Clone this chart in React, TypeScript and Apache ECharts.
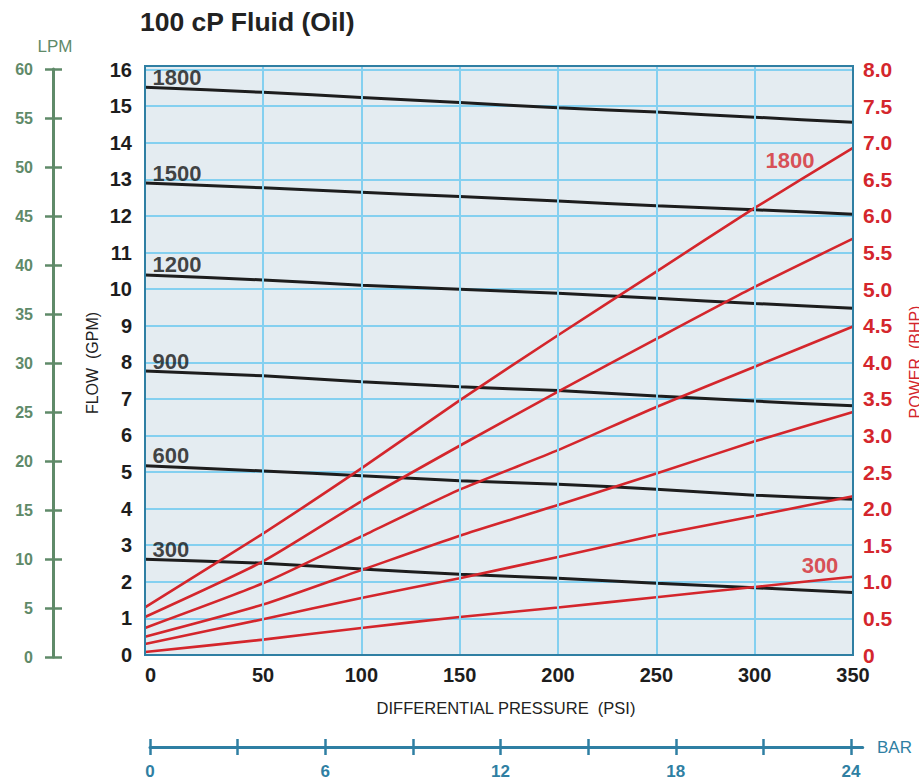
import React, { useEffect, useRef } from "react";
import * as echarts from "echarts";

// ---- data ----
const PSI_EDGE = -10; // left border of the plot
const PSI = [PSI_EDGE, 50, 100, 150, 200, 250, 300, 350];
const PSI_TICKS = [0, 50, 100, 150, 200, 250, 300, 350];
const PSI_GRID = [50, 100, 150, 200, 250, 300];
const RPM = [300, 600, 900, 1200, 1500, 1800];

const FLOW_300 = [2.62, 2.51, 2.35, 2.21, 2.1, 1.96, 1.84, 1.71];
const FLOW_600 = [5.17, 5.03, 4.9, 4.76, 4.67, 4.53, 4.37, 4.26];
const FLOW_900 = [7.76, 7.63, 7.47, 7.33, 7.23, 7.08, 6.94, 6.81];
const FLOW_1200 = [10.39, 10.25, 10.11, 10.0, 9.89, 9.75, 9.61, 9.48];
const FLOW_1500 = [12.9, 12.77, 12.65, 12.53, 12.41, 12.28, 12.17, 12.05];
const FLOW_1800 = [15.52, 15.38, 15.24, 15.1, 14.96, 14.84, 14.7, 14.56];

const POWER_300 = [0.04, 0.21, 0.37, 0.52, 0.65, 0.79, 0.93, 1.07];
const POWER_600 = [0.15, 0.49, 0.78, 1.05, 1.34, 1.64, 1.9, 2.17];
const POWER_900 = [0.25, 0.69, 1.16, 1.63, 2.05, 2.48, 2.92, 3.32];
const POWER_1200 = [0.37, 0.98, 1.62, 2.26, 2.8, 3.39, 3.94, 4.49];
const POWER_1500 = [0.52, 1.28, 2.1, 2.86, 3.6, 4.32, 5.03, 5.69];
const POWER_1800 = [0.65, 1.66, 2.55, 3.48, 4.37, 5.24, 6.11, 6.93];

const BAR_TICKS = [0, 3, 6, 9, 12, 15, 18, 21, 24];
const BAR_LABELS = [0, 6, 12, 18, 24];

const FLOW_SETS = [FLOW_300, FLOW_600, FLOW_900, FLOW_1200, FLOW_1500, FLOW_1800];
const POWER_SETS = [POWER_300, POWER_600, POWER_900, POWER_1200, POWER_1500, POWER_1800];

// ---- styles ----
const NARROW = "'Liberation Sans', Arial, sans-serif";
const SANS = "'Liberation Sans', Arial, Helvetica, sans-serif";
const BLACK = "#1d1d1d";
const RED = "#d4262c";
const TEAL = "#2f7fa3";
const GREEN = "#5f8a69";
const GRID_BLUE = "#84d0f0";
const BG = "#e4ecf1";

function buildOption() {
  const flowSeries = FLOW_SETS.map((arr, k) => ({
    type: "line",
    name: "flow " + RPM[k],
    xAxisIndex: 0,
    yAxisIndex: 0,
    data: PSI.map((p, i) => [p, arr[i]]),
    showSymbol: false,
    symbol: "none",
    smooth: 0.2,
    silent: true,
    lineStyle: { color: BLACK, width: 3 },
    z: 3,
  }));
  const powerSeries = POWER_SETS.map((arr, k) => ({
    type: "line",
    name: "power " + RPM[k],
    xAxisIndex: 0,
    yAxisIndex: 1,
    data: PSI.map((p, i) => [p, arr[i]]),
    showSymbol: false,
    symbol: "none",
    smooth: 0.2,
    silent: true,
    lineStyle: { color: RED, width: 2.6 },
    z: 4,
  }));

  const last = PSI.length - 1;

  return {
    animation: false,
    backgroundColor: "#ffffff",
    grid: [
      { left: 145, right: 66, top: 66, bottom: 126, show: true, backgroundColor: BG, borderWidth: 0 },
      { left: 150, width: 712.7, top: 746, height: 1 },
      { left: 53, width: 1, top: 69, height: 588 },
    ],
    xAxis: [
      {
        type: "value",
        gridIndex: 0,
        min: PSI_EDGE,
        max: 350,
        axisLine: { show: false },
        axisTick: { show: false },
        splitLine: { show: false },
        axisLabel: {
          customValues: PSI_TICKS,
          margin: 10,
          color: BLACK,
          fontFamily: NARROW,
          fontWeight: "bold",
          fontSize: 20,
          formatter: (v: number) => (v === 0 ? "{z|0}" : String(v)),
          rich: {
            z: {
              padding: [0, 28, 0, 0],
              color: BLACK,
              fontFamily: NARROW,
              fontWeight: "bold",
              fontSize: 20,
            },
          },
        },
      },
      {
        type: "value",
        gridIndex: 1,
        min: 0,
        max: 24.4,
        position: "bottom",
        axisLine: { show: true, lineStyle: { color: TEAL, width: 3 } },
        axisTick: { show: true, customValues: BAR_TICKS, length: 8, lineStyle: { color: TEAL, width: 2.5 } },
        splitLine: { show: false },
        axisLabel: {
          customValues: BAR_LABELS,
          margin: 16,
          color: TEAL,
          fontFamily: NARROW,
          fontWeight: "bold",
          fontSize: 17,
        },
      },
      {
        type: "value",
        gridIndex: 1,
        min: 0,
        max: 24.4,
        position: "bottom",
        axisLine: { show: false },
        axisTick: { show: true, inside: true, customValues: BAR_TICKS, length: 8, lineStyle: { color: TEAL, width: 2.5 } },
        splitLine: { show: false },
        axisLabel: { show: false },
      },
      { type: "value", gridIndex: 2, min: 0, max: 1, show: false },
    ],
    yAxis: [
      {
        type: "value",
        gridIndex: 0,
        min: 0,
        max: 16.1,
        interval: 1,
        position: "left",
        axisLine: { show: false },
        axisTick: { show: false },
        splitLine: { show: true, lineStyle: { color: GRID_BLUE, width: 2 } },
        axisLabel: {
          margin: 13,
          color: BLACK,
          fontFamily: NARROW,
          fontWeight: "bold",
          fontSize: 20,
          formatter: (v: number) => (Number.isInteger(v) ? String(v) : ""),
        },
      },
      {
        type: "value",
        gridIndex: 0,
        min: 0,
        max: 8.05,
        interval: 0.5,
        position: "right",
        axisLine: { show: false },
        axisTick: { show: false },
        splitLine: { show: false },
        axisLabel: {
          margin: 10,
          color: RED,
          fontFamily: NARROW,
          fontWeight: "bold",
          fontSize: 21,
          formatter: (v: number) => (v > 8.001 ? "" : v === 0 ? "0" : v.toFixed(1)),
        },
      },
      { type: "value", gridIndex: 1, min: 0, max: 1, show: false },
      {
        type: "value",
        gridIndex: 2,
        min: 0,
        max: 60,
        interval: 5,
        position: "left",
        axisLine: { show: true, lineStyle: { color: GREEN, width: 3 } },
        axisTick: { show: true, length: 8, lineStyle: { color: GREEN, width: 2.5 } },
        splitLine: { show: false },
        axisLabel: {
          margin: 20,
          color: GREEN,
          fontFamily: NARROW,
          fontWeight: "bold",
          fontSize: 16,
        },
      },
      {
        type: "value",
        gridIndex: 2,
        min: 0,
        max: 60,
        interval: 5,
        position: "left",
        axisLine: { show: false },
        axisTick: { show: true, inside: true, length: 9, lineStyle: { color: GREEN, width: 2.5 } },
        splitLine: { show: false },
        axisLabel: { show: false },
      },
    ],
    graphic: [
      {
        type: "rect",
        z: 100,
        silent: true,
        shape: { x: 145, y: 66, width: 708, height: 589 },
        style: { fill: "none", stroke: TEAL, lineWidth: 2 },
      },
      {
        type: "text",
        x: 140,
        y: 22,
        silent: true,
        style: {
          text: "100 cP Fluid (Oil)",
          fill: "#222222",
          fontFamily: SANS,
          fontWeight: "bold",
          fontSize: 26.5,
          align: "left",
          verticalAlign: "middle",
        },
      },
      {
        type: "text",
        x: 55,
        y: 46,
        silent: true,
        style: { text: "LPM", fill: GREEN, fontFamily: SANS, fontSize: 17, align: "center", verticalAlign: "middle" },
      },
      {
        type: "text",
        x: 92,
        y: 363,
        rotation: Math.PI / 2,
        silent: true,
        style: { text: "FLOW  (GPM)", fill: "#222222", fontFamily: SANS, fontSize: 16, align: "center", verticalAlign: "middle" },
      },
      {
        type: "text",
        x: 506,
        y: 708,
        silent: true,
        style: {
          text: "DIFFERENTIAL PRESSURE  (PSI)",
          fill: "#222222",
          fontFamily: SANS,
          fontSize: 16.5,
          align: "center",
          verticalAlign: "middle",
        },
      },
      {
        type: "text",
        x: 915,
        y: 362,
        rotation: Math.PI / 2,
        silent: true,
        style: { text: "POWER  (BHP)", fill: RED, fontFamily: SANS, fontSize: 16, align: "center", verticalAlign: "middle" },
      },
      {
        type: "text",
        x: 877,
        y: 747,
        silent: true,
        style: { text: "BAR", fill: TEAL, fontFamily: SANS, fontSize: 17, align: "left", verticalAlign: "middle" },
      },
    ],
    series: [
      {
        type: "line",
        name: "grid",
        xAxisIndex: 0,
        yAxisIndex: 0,
        data: [],
        silent: true,
        z: 1,
        markLine: {
          silent: true,
          symbol: ["none", "none"],
          label: { show: false },
          lineStyle: { color: GRID_BLUE, width: 2, type: "solid" },
          emphasis: { disabled: true },
          data: PSI_GRID.map((v) => ({ xAxis: v })),
        },
      },
      ...flowSeries,
      ...powerSeries,
      {
        type: "scatter",
        name: "flow labels",
        xAxisIndex: 0,
        yAxisIndex: 0,
        symbolSize: 1,
        silent: true,
        itemStyle: { color: "rgba(0,0,0,0)" },
        data: RPM.map((r, k) => [PSI[0], FLOW_SETS[k][0], r]),
        label: {
          show: true,
          position: "right",
          distance: 0,
          offset: [7, -10],
          formatter: (p: any) => String(p.value[2]),
          color: "#141414",
          fontFamily: SANS,
          fontWeight: "bold",
          fontSize: 22,
        },
        z: 6,
      },
      {
        type: "scatter",
        name: "power labels",
        xAxisIndex: 0,
        yAxisIndex: 1,
        symbolSize: 1,
        silent: true,
        itemStyle: { color: "rgba(0,0,0,0)" },
        data: [
          { value: [PSI[last], POWER_1800[last], 1800], label: { offset: [-63, 13] } },
          { value: [PSI[last], POWER_300[last], 300], label: { offset: [-33, -11] } },
        ],
        label: {
          show: true,
          position: "inside",
          formatter: (p: any) => String(p.value[2]),
          color: RED,
          fontFamily: SANS,
          fontWeight: "bold",
          fontSize: 22,
        },
        z: 6,
      },
    ],
  };
}

export default function App() {
  const ref = useRef<HTMLDivElement>(null);
  useEffect(() => {
    if (!ref.current) return;
    const chart = echarts.init(ref.current, undefined, { renderer: "svg" });
    chart.setOption(buildOption() as any);
    return () => chart.dispose();
  }, []);
  return (
    <div
      ref={ref}
      style={{ position: "fixed", left: 0, top: 0, width: 919, height: 781, background: "#fff" }}
    />
  );
}
